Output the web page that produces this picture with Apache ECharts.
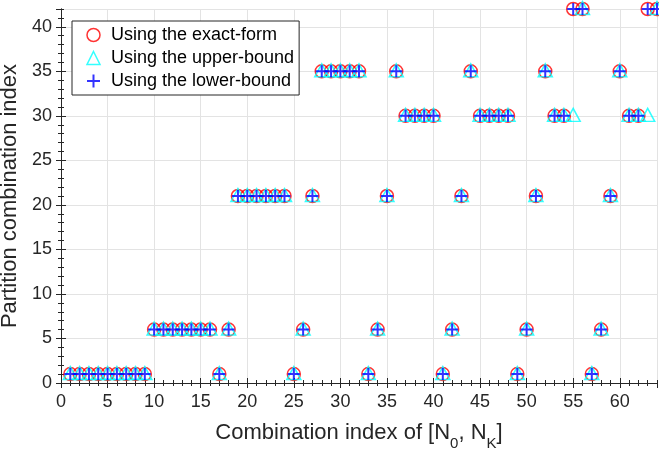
<!DOCTYPE html>
<html>
<head>
<meta charset="utf-8">
<script src="https://cdn.jsdelivr.net/npm/echarts@6/dist/echarts.min.js"></script>
<style>
  html, body { margin: 0; padding: 0; background: #fff; }
  #chart { width: 659px; height: 452px; }
</style>
</head>
<body>
<div id="chart"></div>
<script>
// combination index 1..64
var combIndex = [];
for (var i = 1; i <= 64; i++) combIndex.push(i);

var exactForm = [1, 1, 1, 1, 1, 1, 1, 1, 1, 6, 6, 6, 6, 6, 6, 6, 1, 6, 21, 21, 21, 21, 21, 21,
  1, 6, 21, 35, 35, 35, 35, 35, 1, 6, 21, 35, 30, 30, 30, 30, 1, 6, 21, 35, 30, 30, 30, 30,
  1, 6, 21, 35, 30, 30, 42, 42, 1, 6, 21, 35, 30, 30, 42, 42];
var upperBound = [1, 1, 1, 1, 1, 1, 1, 1, 1, 6, 6, 6, 6, 6, 6, 6, 1, 6, 21, 21, 21, 21, 21, 21,
  1, 6, 21, 35, 35, 35, 35, 35, 1, 6, 21, 35, 30, 30, 30, 30, 1, 6, 21, 35, 30, 30, 30, 30,
  1, 6, 21, 35, 30, 30, 30, 42, 1, 6, 21, 35, 30, 30, 30, 42];
var lowerBound = [1, 1, 1, 1, 1, 1, 1, 1, 1, 6, 6, 6, 6, 6, 6, 6, 1, 6, 21, 21, 21, 21, 21, 21,
  1, 6, 21, 35, 35, 35, 35, 35, 1, 6, 21, 35, 30, 30, 30, 30, 1, 6, 21, 35, 30, 30, 30, 30,
  1, 6, 21, 35, 30, 30, 42, 42, 1, 6, 21, 35, 30, 30, 42, 42];

var seriesNames = ['Using the exact-form', 'Using the upper-bound', 'Using the lower-bound'];

function pairs(ys) {
  return combIndex.map(function (x, k) { return [x, ys[k]]; });
}

var axisColor = '#262626';
var font = 'Liberation Sans';
var plusPath = 'path://M0,5L10,5M5,0L5,10';

function xAx(pos, step, main) {
  return {
    type: 'value', position: pos, min: 0, max: 64, interval: step,
    axisLine: { show: main, lineStyle: { color: axisColor, width: 1 } },
    axisTick: { show: true, inside: true, length: step === 1 ? 3 : 5, lineStyle: { color: axisColor, width: 1 } },
    axisLabel: { show: false },
    splitLine: { show: false }
  };
}
function yAx(pos, step, main) {
  return {
    type: 'value', position: pos, min: 0, max: 42, interval: step,
    axisLine: { show: main, lineStyle: { color: axisColor, width: 1 } },
    axisTick: { show: true, inside: true, length: step === 1 ? 3 : 5, lineStyle: { color: axisColor, width: 1 } },
    axisLabel: { show: false },
    splitLine: { show: false }
  };
}

var xMain = xAx('bottom', 5, true);
xMain.axisLabel = { show: true, showMaxLabel: false, margin: 10, fontSize: 18, fontFamily: font, color: axisColor };
xMain.splitLine = { show: true, lineStyle: { color: '#e3e3e3', width: 1 } };
xMain.name = 'Combination index of [N{sub|0}, N{sub|K}]';
xMain.nameLocation = 'middle';
xMain.nameGap = 32;
xMain.nameTextStyle = {
  fontSize: 22, fontFamily: font, color: axisColor,
  rich: { sub: { fontSize: 15, fontFamily: font, color: axisColor, padding: [21, 0, 0, 0] } }
};

var yMain = yAx('left', 5, true);
yMain.axisLabel = { show: true, showMaxLabel: false, margin: 9, fontSize: 18, fontFamily: font, color: axisColor };
yMain.splitLine = { show: true, lineStyle: { color: '#e3e3e3', width: 1 } };
yMain.name = 'Partition combination index';
yMain.nameLocation = 'middle';
yMain.nameGap = 28;
yMain.nameTextStyle = { fontSize: 22, fontFamily: font, color: axisColor };

var chart = echarts.init(document.getElementById('chart'));
var option = {
  animation: false,
  backgroundColor: '#ffffff',
  grid: { left: 61, top: 9, right: 2, bottom: 69, containLabel: false, outerBoundsMode: 'none' },
  xAxis: [xMain, xAx('bottom', 1, false), xAx('top', 5, true), xAx('top', 1, false)],
  yAxis: [yMain, yAx('left', 1, false), yAx('right', 5, true), yAx('right', 1, false)],
  legend: {
    orient: 'vertical',
    left: 72, top: 21,
    padding: [5, 5, 5, 14],
    itemGap: 5,
    itemWidth: 13, itemHeight: 13,
    backgroundColor: '#ffffff',
    borderColor: axisColor, borderWidth: 1,
    textStyle: { fontSize: 18, fontFamily: font, color: '#000000', padding: [0, 0, 0, 6] },
    data: [
      { name: seriesNames[0], itemStyle: { borderWidth: 1.5 } },
      { name: seriesNames[1], itemStyle: { borderWidth: 1.5 } },
      { name: seriesNames[2], itemStyle: { borderWidth: 2 } }
    ]
  },
  series: [
    {
      name: seriesNames[0], type: 'scatter', data: pairs(exactForm),
      symbol: 'circle', symbolSize: 13, clip: false,
      itemStyle: { color: 'rgba(0,0,0,0)', borderColor: '#ff0000', borderWidth: 1.5 }
    },
    {
      name: seriesNames[1], type: 'scatter', data: pairs(upperBound),
      symbol: 'triangle', symbolSize: [14, 13], symbolOffset: [0, -1], clip: false,
      itemStyle: { color: 'rgba(0,0,0,0)', borderColor: '#00ffff', borderWidth: 1.5 }
    },
    {
      name: seriesNames[2], type: 'scatter', data: pairs(lowerBound),
      symbol: plusPath, symbolSize: 12, clip: false,
      itemStyle: { color: '#0000ff', borderColor: '#0000ff', borderWidth: 2 }
    }
  ]
};
chart.setOption(option);
</script>
</body>
</html>
